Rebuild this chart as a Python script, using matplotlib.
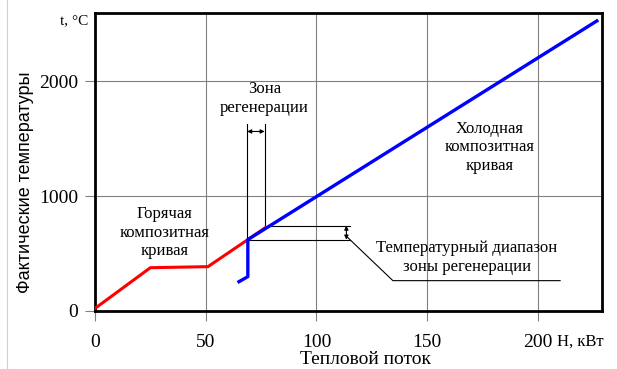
import matplotlib
matplotlib.use("Agg")
import matplotlib.pyplot as plt
from matplotlib.lines import Line2D

SERIF = "Liberation Serif"
SANS = "Liberation Sans"

# composite curves, H in kW, t in deg C
hot_h = [0, 25, 51, 77]
hot_t = [20, 375, 384, 725]
cold_h = [65, 69, 69, 226.6]
cold_t = [253, 297, 620, 2527]

# regeneration zone bounds
zone_h = [68.7, 76.6]
zone_t = [620, 742]

xticks = [0, 50, 100, 150, 200]
yticks = [0, 1000, 2000]

fig = plt.figure(figsize=(6.17, 3.69), dpi=100)
ax = fig.add_axes([0.154, 0.158, 0.822, 0.808])
ax.set_xlim(0, 229)
ax.set_ylim(0, 2600)

for v in xticks[1:]:
    ax.axvline(v, color="#808080", lw=0.8, zorder=0)
for v in yticks[1:]:
    ax.axhline(v, color="#808080", lw=0.8, zorder=0)

ax.plot(hot_h, hot_t, color="#ff0000", lw=2.2, zorder=3)
ax.plot(cold_h, cold_t, color="#0000ff", lw=2.4, zorder=4)

# zone width markers
k = dict(color="black", lw=0.8, zorder=2)
arr = dict(arrowstyle="<|-|>", color="black", lw=0.8,
           mutation_scale=6, shrinkA=0, shrinkB=0)
ax.plot([zone_h[0], zone_h[0]], [zone_t[0], 1625], **k)
ax.plot([zone_h[1], zone_h[1]], [zone_t[1], 1625], **k)
ax.annotate("", xy=(zone_h[0], 1563), xytext=(zone_h[1], 1563), arrowprops=arr)
# temperature range markers
ax.plot([zone_h[0], 115], [zone_t[0], zone_t[0]], **k)
ax.plot([zone_h[1], 115], [zone_t[1], zone_t[1]], **k)
ax.annotate("", xy=(113.5, zone_t[0]), xytext=(113.5, zone_t[1]), arrowprops=arr)
ax.plot([114, 134.5, 210], [640, 262, 262], **k)

tx = dict(family=SERIF, fontsize=12, ha="center", va="center", linespacing=1.2)
ax.text(76.5, 1850, "Зона\nрегенерации", **tx)
ax.text(31.5, 681, "Горячая\nкомпозитная\nкривая", **tx)
ax.text(178, 1424, "Холодная\nкомпозитная\nкривая", **tx)
ax.text(168, 463, "Температурный диапазон\nзоны регенерации", **tx)

ax.set_xticks(xticks)
ax.set_yticks(yticks)
ax.tick_params(direction="out", length=7, width=0.8, color="#808080",
               labelsize=14)
ax.tick_params(axis="x", pad=10)
ax.tick_params(axis="y", pad=5)
for lab in ax.get_xticklabels() + ax.get_yticklabels():
    lab.set_family(SERIF)
for s in ax.spines.values():
    s.set_linewidth(2)

fig.text(0.592, 0.026, "Тепловой поток", family=SERIF, fontsize=14,
         ha="center", va="center")
fig.text(0.042, 0.505, "Фактические температуры", family=SANS, fontsize=13,
         rotation=90, ha="center", va="center")
fig.text(0.143, 0.945, "t, °C", family=SERIF, fontsize=11, ha="right", va="center")
fig.text(0.903, 0.075, "H, кВт", family=SERIF, fontsize=12, ha="left", va="center")

# page edge line
fig.add_artist(Line2D([0.012, 0.012], [0.0, 1.0], color="#d0d0d0", lw=0.8))

fig.savefig("out.png", dpi=100)
